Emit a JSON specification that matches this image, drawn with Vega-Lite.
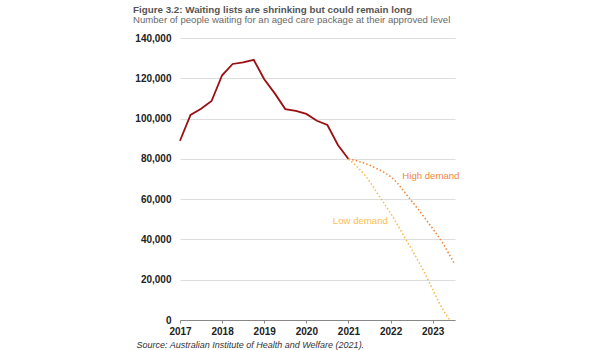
{
  "$schema": "https://vega.github.io/schema/vega-lite/v6.json",
  "autosize": "none",
  "width": 275,
  "height": 282,
  "padding": {"left": 180, "top": 38, "right": 145, "bottom": 30},
  "background": "white",
  "config": {
    "view": {"stroke": null},
    "font": "Liberation Sans"
  },
  "title": {
    "text": "Figure 3.2: Waiting lists are shrinking but could remain long",
    "subtitle": "Number of people waiting for an aged care package at their approved level",
    "anchor": "start",
    "frame": "group",
    "dx": -47,
    "offset": 15,
    "fontSize": 9.8,
    "fontWeight": "bold",
    "color": "#555555",
    "subtitleFontSize": 9.6,
    "subtitleColor": "#6a6a6a",
    "subtitlePadding": 1,
    "dy": 7
  },
  "datasets": {
    "actual": [
      {"year": 2017.0, "value": 89000},
      {"year": 2017.25, "value": 101800},
      {"year": 2017.5, "value": 104900},
      {"year": 2017.75, "value": 108700},
      {"year": 2018.0, "value": 121500},
      {"year": 2018.25, "value": 127100},
      {"year": 2018.5, "value": 127900},
      {"year": 2018.75, "value": 129200},
      {"year": 2019.0, "value": 119500},
      {"year": 2019.25, "value": 112500},
      {"year": 2019.5, "value": 104700},
      {"year": 2019.75, "value": 103800},
      {"year": 2020.0, "value": 102300},
      {"year": 2020.25, "value": 98900},
      {"year": 2020.5, "value": 96800},
      {"year": 2020.75, "value": 86900},
      {"year": 2021.0, "value": 79900}
    ],
    "projection": [
      {"scenario": "High demand", "year": 2021.0, "value": 79900},
      {"scenario": "High demand", "year": 2021.27, "value": 78600},
      {"scenario": "High demand", "year": 2021.66, "value": 75300},
      {"scenario": "High demand", "year": 2022.05, "value": 70300},
      {"scenario": "High demand", "year": 2022.45, "value": 60400},
      {"scenario": "High demand", "year": 2022.85, "value": 49600},
      {"scenario": "High demand", "year": 2023.24, "value": 38100},
      {"scenario": "High demand", "year": 2023.52, "value": 27800},
      {"scenario": "Low demand", "year": 2021.0, "value": 79900},
      {"scenario": "Low demand", "year": 2021.42, "value": 71100},
      {"scenario": "Low demand", "year": 2021.74, "value": 61200},
      {"scenario": "Low demand", "year": 2022.05, "value": 51300},
      {"scenario": "Low demand", "year": 2022.37, "value": 39700},
      {"scenario": "Low demand", "year": 2022.69, "value": 28100},
      {"scenario": "Low demand", "year": 2022.93, "value": 18200},
      {"scenario": "Low demand", "year": 2023.16, "value": 8300},
      {"scenario": "Low demand", "year": 2023.40, "value": 0}
    ],
    "labels": [
      {"scenario": "High demand", "year": 2022.28, "value": 71500},
      {"scenario": "Low demand", "year": 2020.63, "value": 49100}
    ]
  },
  "encoding": {
    "x": {
      "field": "year",
      "type": "quantitative",
      "scale": {"domain": [2017, 2023.53], "nice": false, "zero": false},
      "axis": {
        "values": [2017, 2018, 2019, 2020, 2021, 2022, 2023],
        "format": "d",
        "grid": false,
        "labelFlush": false,
        "domainColor": "#888888",
        "tickColor": "#888888",
        "tickSize": 3,
        "labelFontSize": 10,
        "labelColor": "#222222",
        "labelFontWeight": "bold",
        "labelPadding": 3,
        "title": "Source: Australian Institute of Health and Welfare (2021).",
        "titleFontStyle": "italic",
        "titleFontWeight": "normal",
        "titleFontSize": 9,
        "titleColor": "#333333",
        "titleAnchor": "start",
        "titleAlign": "left",
        "titleBaseline": "alphabetic",
        "titleX": -44,
        "titleY": 27
      }
    },
    "y": {
      "field": "value",
      "type": "quantitative",
      "scale": {"domain": [0, 140000], "nice": false},
      "axis": {
        "values": [0, 20000, 40000, 60000, 80000, 100000, 120000, 140000],
        "format": ",d",
        "domain": false,
        "ticks": false,
        "gridColor": "#dddddd",
        "gridWidth": 1,
        "labelFontSize": 10,
        "labelColor": "#222222",
        "labelFontWeight": "bold",
        "labelPadding": 9,
        "title": null
      }
    }
  },
  "layer": [
    {
      "data": {"name": "actual"},
      "mark": {"type": "line", "color": "#9a0f12", "strokeWidth": 1.8}
    },
    {
      "data": {"name": "projection"},
      "mark": {"type": "line", "strokeWidth": 1.6, "strokeDash": [1.5, 2.2], "interpolate": "monotone"},
      "encoding": {
        "color": {
          "field": "scenario",
          "type": "nominal",
          "scale": {"domain": ["High demand", "Low demand"], "range": ["#f0873a", "#fbbd52"]},
          "legend": null
        }
      }
    },
    {
      "data": {"name": "labels"},
      "mark": {"type": "text", "align": "left", "baseline": "middle", "fontSize": 9.6},
      "encoding": {
        "text": {"field": "scenario"},
        "color": {
          "field": "scenario",
          "type": "nominal",
          "scale": {"domain": ["High demand", "Low demand"], "range": ["#f0873a", "#fbbd52"]},
          "legend": null
        }
      }
    }
  ]
}
